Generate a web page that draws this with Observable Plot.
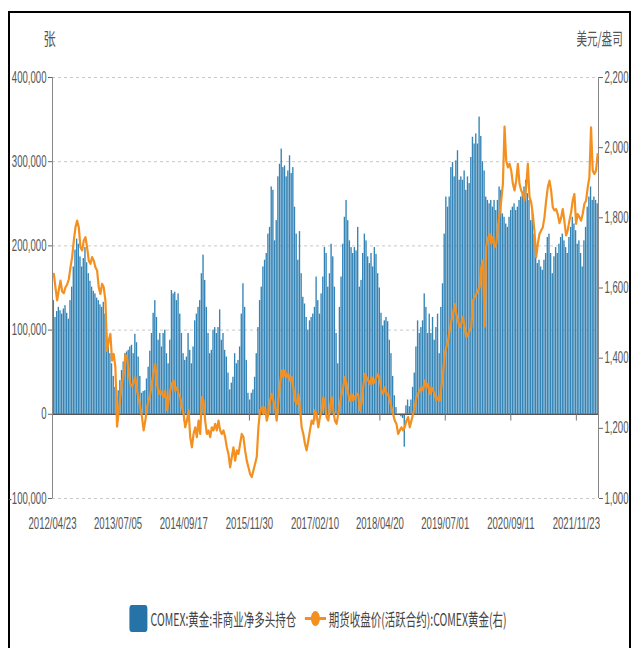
<!DOCTYPE html>
<html><head><meta charset="utf-8">
<script src="https://cdn.jsdelivr.net/npm/d3@7"></script>
<script src="https://cdn.jsdelivr.net/npm/@observablehq/plot@0.6"></script>
<style>
body{margin:0;background:#fff;width:635px;height:648px;position:relative;overflow:hidden;font-family:"Liberation Sans","Noto Sans CJK SC",sans-serif;}
#frame{position:absolute;left:8px;top:11px;width:623px;height:680px;border:2px solid #000;box-sizing:border-box;}
#chart{position:absolute;left:0;top:0;}
.unit{position:absolute;top:29px;font-size:17px;line-height:17px;color:#555;font-family:"Noto Sans CJK SC",sans-serif;white-space:nowrap;}
#uL{left:41px;transform:scaleX(0.72);transform-origin:center;}
#uR{right:12px;transform:scaleX(0.62);transform-origin:right center;}
#legend{position:absolute;top:605px;left:0;width:635px;height:27px;display:flex;justify-content:center;align-items:center;transform:scaleX(0.6);transform-origin:319px 50%;font-family:"Noto Sans CJK SC",sans-serif;font-size:17.5px;color:#444;white-space:nowrap;}
#legend .sw{display:inline-block;width:30px;height:27px;border-radius:4px;background:#2673a7;margin-right:5px;}
#legend .txt{line-height:27px;}
#legend svg{margin:0 4px 0 14px;}
</style></head><body>
<div id="frame"></div>
<div id="chart"></div>
<div class="unit" id="uL">张</div>
<div class="unit" id="uR">美元/盎司</div>
<div id="legend">
  <span class="sw"></span><span class="txt" id="lg1"></span>
  <svg width="36" height="27"><line x1="0" y1="13.5" x2="36" y2="13.5" stroke="#f39020" stroke-width="3"/><circle cx="18" cy="13.5" r="7.5" fill="#f39020"/></svg><span class="txt" id="lg2"></span>
</div>
<script>
// ---- labels ----
const seriesNames = ["COMEX:黄金:非商业净多头持仓", "期货收盘价(活跃合约):COMEX黄金(右)"];
const xTickLabels = ["2012/04/23","2013/07/05","2014/09/17","2015/11/30","2017/02/10","2018/04/20","2019/07/01","2020/09/11","2021/11/23"];
const leftTicks = [400000, 300000, 200000, 100000, 0, -100000];
const gridTicks = [400000, 300000, 200000, 100000, -100000];
const priceTicks = [2200, 2000, 1800, 1600, 1400, 1200, 1000];
const xStart = "2012-04-23", xEnd = "2022-04-20";
const firstSample = "2012-05-02", stepDays = 11.115; // sampling of the values below

// ---- net long positions (thousand contracts) ----
const netLongA = [135,115,122,127,123,119,125,129,120,113,135,151,175,195,208,202,187,175,185,198,180,167,158,151,146,143,138,135,130,127,133,119,96,84,72,60,45,32,21,28,40,52,62,72,74,76,80,82,72,95,85,68,45,25,27,28,42,56,75,96,120];
const netLongB = [135,115,88,96,80,96,100,72,60,88,147,143,145,135,143,119,96,72,64,68,96,76,60,80,111,119,127,135,167,189,159,127,96,72,76,100,103,96,103,124,88,96,76,68,49,29,37,44,72,60,64,80,119,155,127,64,25,17,25,29,44,72,103,135,151,175];
const netLongC = [183,191,214,222,270,266,206,230,282,297,315,293,295,282,289,307,286,293,246,214,183,217,167,139,131,115,100,111,115,119,127,163,135,119,143,163,198,191,151,167,202,187,151,96,60,127,163,202,234,254,230,206,198,191,198,194,222,151,159,191,214,206,187,179,191,175];
const netLongD = [198,190,167,150,120,105,111,115,110,88,72,45,22,8,0,-1,-3,-5,-39,10,17,9,17,32,49,80,111,96,103,111,143,127,96,119,96,115,88,103,119,72,127,155,214,258,246,258,293,299,282,301,313,278,282,278,289,266,282,274,305,329,321,333,321,353,330,300];
const netLongE = [289,258,254,250,254,246,254,242,254,270,266,238,234,226,222,234,242,246,250,242,246,254,258,262,270,278,262,254,230,242,214,187,179,183,175,171,183,191,210,214,191,167,187,198,191,202,210,214,206,198,191,210,222,234,226,218,202,206,191,175,206,222,246,258,270,254,258,254,250];

// ---- gold futures close (USD/oz) ----
const goldA = [1640,1600,1565,1595,1621,1590,1585,1602,1610,1625,1659,1688,1735,1773,1792,1773,1716,1707,1735,1745,1716,1678,1669,1688,1678,1659,1650,1602,1583,1612,1602,1564,1420,1450,1469,1393,1412,1374,1205,1250,1290,1330,1355,1410,1400,1360,1327,1320,1330,1346,1308,1285,1260,1232,1194,1222,1260,1280,1298,1330,1360];
const goldB = [1384,1327,1298,1308,1298,1289,1308,1251,1279,1308,1327,1336,1308,1317,1298,1289,1260,1241,1203,1222,1251,1175,1146,1184,1203,1175,1222,1184,1289,1279,1222,1184,1194,1175,1203,1194,1213,1194,1222,1194,1184,1194,1175,1146,1127,1089,1118,1146,1108,1137,1127,1156,1184,1175,1137,1108,1089,1070,1061,1080,1099,1118,1203,1251,1260,1241];
const goldC = [1260,1222,1241,1279,1298,1279,1260,1222,1279,1327,1365,1346,1365,1346,1355,1336,1346,1317,1279,1270,1298,1260,1203,1184,1156,1137,1165,1194,1222,1213,1251,1241,1203,1232,1251,1289,1270,1232,1222,1260,1289,1251,1222,1213,1241,1270,1298,1317,1346,1327,1298,1279,1298,1279,1289,1298,1298,1251,1270,1317,1355,1346,1336,1327,1346,1327];
const goldD = [1336,1346,1355,1336,1308,1298,1317,1298,1298,1279,1260,1241,1222,1213,1184,1194,1203,1194,1203,1222,1232,1203,1222,1241,1260,1289,1298,1308,1317,1308,1336,1317,1327,1298,1317,1308,1298,1279,1289,1279,1317,1355,1412,1431,1450,1479,1507,1526,1555,1526,1507,1488,1498,1517,1488,1460,1469,1479,1488,1564,1574,1583,1593,1602,1659,1678];
const goldE = [1490,1720,1740,1754,1726,1745,1716,1726,1773,1811,1849,1897,2060,1963,1944,1954,1935,1897,1878,1906,1954,1897,1878,1868,1849,1887,1954,1859,1845,1810,1760,1688,1726,1754,1764,1773,1802,1849,1887,1906,1878,1830,1821,1825,1810,1785,1800,1825,1790,1750,1765,1792,1815,1850,1868,1783,1811,1802,1792,1811,1840,1849,1887,1916,2058,1935,1925,1935,1982];

// ---- build table ----
const netLong = [...netLongA, ...netLongB, ...netLongC, ...netLongD, ...netLongE];
const gold = [...goldA, ...goldB, ...goldC, ...goldD, ...goldE];
const dayMs = 864e5;
const t0 = +new Date(firstSample + "T00:00:00Z");
const half = stepDays * dayMs / 2;
const table = netLong.map((v, i) => {
  const t = t0 + i * stepDays * dayMs;
  return {date: new Date(t), d1: new Date(t - half), d2: new Date(t + half), v: v * 1000, p: gold[i]};
});
const yMin = -100000, yMax = 400000, pMin = 1000, pMax = 2200;
const toY = p => yMin + (p - pMin) * (yMax - yMin) / (pMax - pMin);
const fromY = y => pMin + (y - yMin) * (pMax - pMin) / (yMax - yMin);
const parse = s => new Date(s.replace(/\//g, "-") + "T00:00:00Z");
const tickDates = xTickLabels.map(parse);
const dom = [new Date(xStart + "T00:00:00Z"), new Date(xEnd + "T00:00:00Z")];
const fmtNum = n => Math.round(n).toLocaleString("en-US");

const chart = Plot.plot({
  width: 635, height: 545,
  marginLeft: 52, marginRight: 37, marginTop: 77, marginBottom: 47,
  style: {fontSize: "16px", fontFamily: "'Liberation Sans', Arial, sans-serif", background: "transparent"},
  x: {type: "utc", domain: dom, label: null},
  y: {domain: [yMin, yMax], label: null},
  marks: [
    Plot.ruleY(gridTicks, {stroke: "#c8c8c8", strokeDasharray: "3,3", strokeWidth: 1}),
    Plot.rect(table, {x1: "d1", x2: "d2", y1: 0, y2: "v", fill: "#3584b6", insetLeft: 0.15, insetRight: 0.15}),
    Plot.ruleY([0], {stroke: "#555", strokeWidth: 1.6}),
    Plot.ruleX(tickDates.slice(1), {y1: 0, y2: -8000, stroke: "#777", strokeWidth: 1}),
    Plot.ruleX([dom[0]], {y1: yMin, y2: yMax, stroke: "#888"}),
    Plot.ruleX([dom[1]], {y1: yMin, y2: yMax, stroke: "#888"}),
    Plot.line(table, {x: "date", y: d => toY(d.p), stroke: "#f39020", strokeWidth: 2.2}),
    Plot.axisY({anchor: "left", label: null, ticks: leftTicks, tickFormat: fmtNum, tickSize: 4, tickPadding: 2, stroke: "#666", fill: "#555"}),
    Plot.axisY({anchor: "right", label: null, ticks: priceTicks.map(toY), tickFormat: y => fmtNum(fromY(y)), tickSize: 4, tickPadding: 2, stroke: "#666", fill: "#555"}),
    Plot.axisX({label: null, ticks: tickDates, tickFormat: d3.utcFormat("%Y/%m/%d"), tickSize: 0, tickPadding: 19, fill: "#555"})
  ]
});
document.getElementById("chart").appendChild(chart);
// narrow the tick labels as in the picture
chart.querySelectorAll('g[aria-label$="tick label"] text').forEach(t => {
  const tr = t.getAttribute("transform");
  if (tr) t.setAttribute("transform", tr + " scale(0.6,1)");
  else {
    const x = +t.getAttribute("x") || 0, y = +t.getAttribute("y") || 0;
    t.removeAttribute("x"); t.removeAttribute("y");
    t.setAttribute("transform", `translate(${x},${y}) scale(0.6,1)`);
  }
});
document.getElementById("lg1").textContent = seriesNames[0];
document.getElementById("lg2").textContent = seriesNames[1];
</script>
</body></html>
